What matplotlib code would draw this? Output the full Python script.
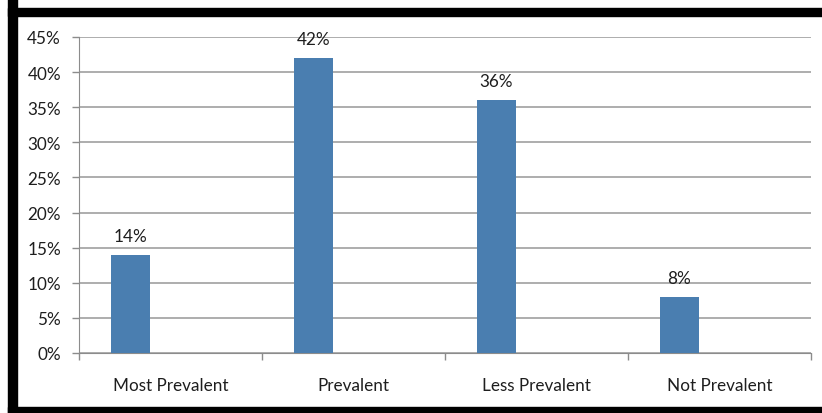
import matplotlib
matplotlib.use("Agg")
import matplotlib.pyplot as plt
from matplotlib.patches import Rectangle
from matplotlib.ticker import FixedLocator, FuncFormatter

categories = ["Most Prevalent", "Prevalent", "Less Prevalent", "Not Prevalent"]
values = [14, 42, 36, 8]
y_ticks = [0, 5, 10, 15, 20, 25, 30, 35, 40, 45]

plt.rcParams['font.family'] = ['Lato', 'DejaVu Sans']
W, H = 822, 414
fig = plt.figure(figsize=(W / 100, H / 100), dpi=100)
fig.patch.set_facecolor('white')

# black frame (top, left, bottom)
fig.add_artist(Rectangle((8 / W, 0), 9 / W, 1, transform=fig.transFigure, color='black', zorder=0))
fig.add_artist(Rectangle((8 / W, (H - 17) / H), 1 - 8 / W, 8 / H, transform=fig.transFigure, color='black', zorder=0))
fig.add_artist(Rectangle((8 / W, 0), 1 - 8 / W, 6 / H, transform=fig.transFigure, color='black', zorder=0))

x0, x1 = 79, 811
ytop, ybot = 38, 354
ax = fig.add_axes([x0 / W, (H - ybot) / H, (x1 - x0) / W, (ybot - ytop) / H])

TXT = '#1e1e1e'
FS = 12.3
n = len(categories)
pos = [i - 0.219 for i in range(n)]
bars = ax.bar(pos, values, width=0.213, color='#4A7EB0', zorder=3)
for p, v in zip(pos, values):
    ax.annotate(f"{v}%", (p, v), xytext=(0, 8), textcoords='offset points',
                ha='center', va='bottom', fontsize=FS, color=TXT)

ax.set_xlim(-0.5, n - 0.5)
ax.set_ylim(0, 45)
ax.yaxis.set_major_locator(FixedLocator(y_ticks))
ax.yaxis.set_major_formatter(FuncFormatter(lambda v, _: f"{int(v)}%"))
ax.grid(axis='y', color='#a0a0a0', linewidth=1.2, zorder=0)
ax.set_axisbelow(True)

ax.set_xticks([i - 0.5 for i in range(n + 1)])
ax.set_xticklabels([])
ax.set_xticks(range(n), minor=True)
ax.set_xticklabels(categories, minor=True)
ax.tick_params(axis='x', which='minor', length=0, pad=17, labelsize=FS, labelcolor=TXT)
ax.tick_params(axis='x', which='major', length=5, color='#8c8c8c', width=1)
ax.tick_params(axis='y', length=5, color='#8c8c8c', width=1, labelsize=FS, labelcolor=TXT, pad=8)

for s in ['top', 'right']:
    ax.spines[s].set_visible(False)
ax.spines['left'].set_color('#8c8c8c')
ax.spines['bottom'].set_color('#8c8c8c')

fig.savefig('out.png', dpi=100, facecolor='white')
